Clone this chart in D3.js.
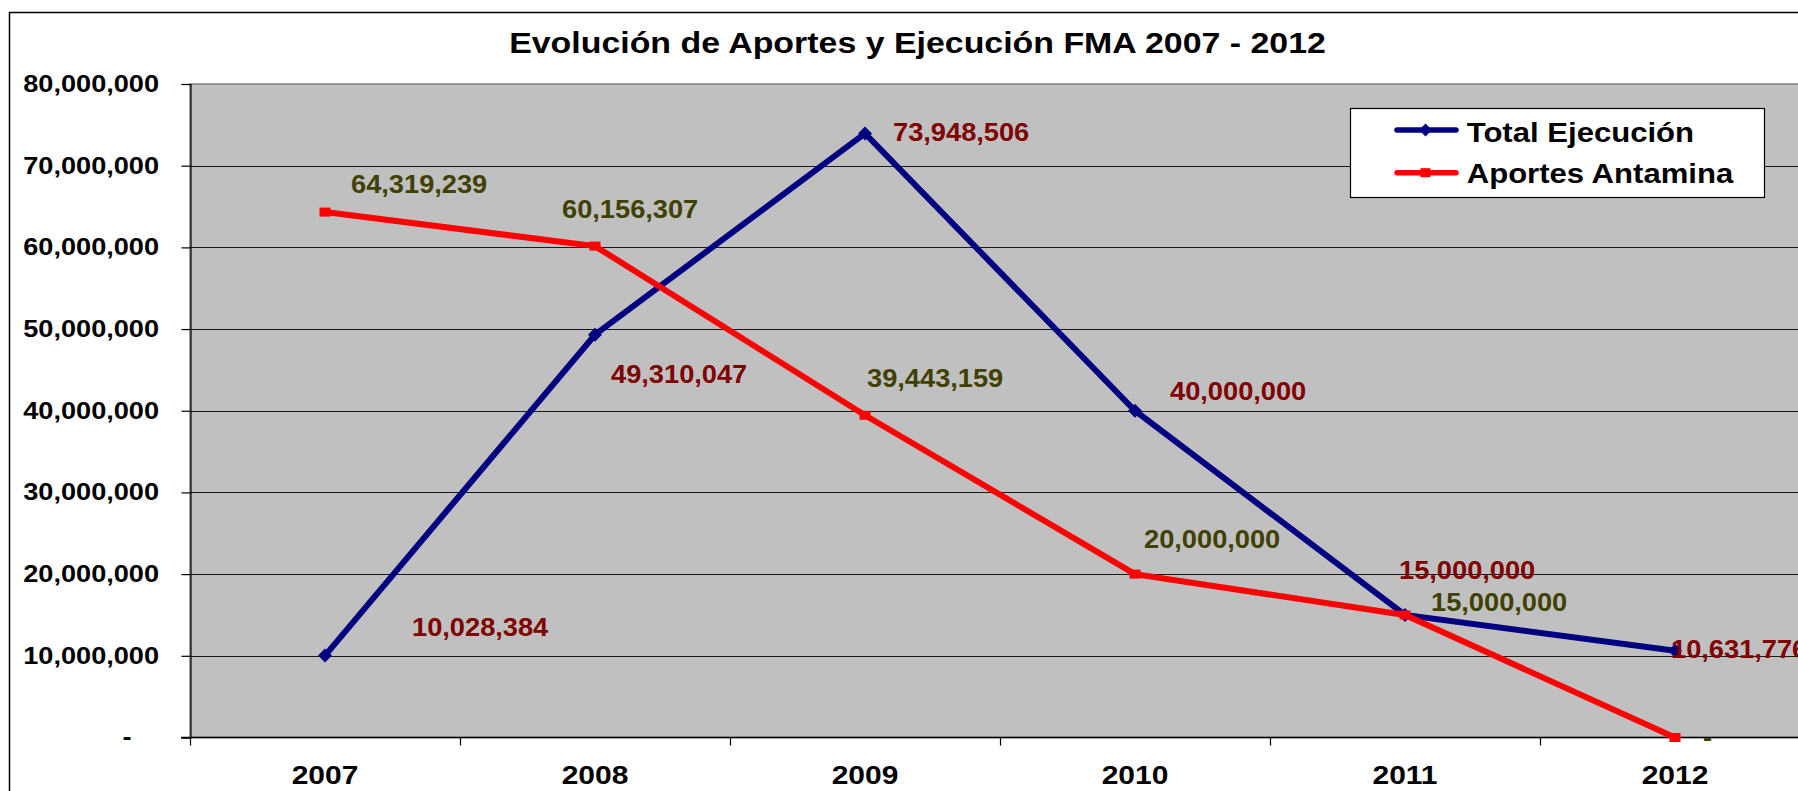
<!DOCTYPE html>
<html>
<head>
<meta charset="utf-8">
<script src="https://cdn.jsdelivr.net/npm/d3@7"></script>
<style>
  html, body { margin: 0; padding: 0; background: #ffffff; overflow: hidden; }
  svg { display: block; }
  text { font-family: "Liberation Sans", Arial, sans-serif; font-weight: bold; }
</style>
</head>
<body>
<svg id="chart" width="1798" height="791"></svg>
<script>
// ---- data ----
const categories = ["2007", "2008", "2009", "2010", "2011", "2012"];
const totalEjecucion = [10028384, 49310047, 73948506, 40000000, 15000000, 10631776];
const aportesAntamina = [64319239, 60156307, 39443159, 20000000, 15000000, 0];
const seriesNames = ["Total Ejecución", "Aportes Antamina"];
const yTicks = [0, 10000000, 20000000, 30000000, 40000000, 50000000, 60000000, 70000000, 80000000];
const chartTitle = "Evolución de Aportes y Ejecución FMA 2007 - 2012";

// ---- layout (label offsets from their points, in px) ----
const blueLabelOffsets = [[87, -20], [16, 48], [28, 8], [35, -11], [-6, -36], [-4, 7]];
const redLabelOffsets = [[26, -19], [-33, -28], [2, -28], [9, -26], [26, -4], [28, 8]];

const W = 1798, H = 791;
const plot = { left: 190, top: 84, bottom: 737.5, right: 1810 };
const blue = "#000080", red = "#FF0000";
const blueLabel = "#800000", redLabel = "#404000";

const svg = d3.select("#chart");

const fmt = v => v === 0 ? "-" : d3.format(",")(v);

function stext(g, x, y, s, size, sx, fill, anchor) {
  return g.append("text")
    .attr("transform", `translate(${x},${y}) scale(${sx},1)`)
    .attr("font-size", size)
    .attr("fill", fill)
    .attr("text-anchor", anchor || "start")
    .text(s);
}

// chart background + outer border
svg.append("rect").attr("x", 0).attr("y", 0).attr("width", W).attr("height", H).attr("fill", "#fff");
svg.append("rect").attr("x", 9.5).attr("y", 12.5).attr("width", 2000).attr("height", 1000)
  .attr("fill", "#fff").attr("stroke", "#000").attr("stroke-width", 1.5);

// scales
const x = d3.scaleBand().domain(categories).range([plot.left, plot.right]).padding(0);
const y = d3.scaleLinear().domain([0, 80000000]).range([plot.bottom, plot.top]);
const cx = c => x(c) + x.bandwidth() / 2;

// plot area
svg.append("rect").attr("x", plot.left).attr("y", plot.top)
  .attr("width", plot.right - plot.left).attr("height", plot.bottom - plot.top)
  .attr("fill", "#C0C0C0").attr("stroke", "#808080").attr("stroke-width", 1.5);

// gridlines
svg.append("g").selectAll("line").data(yTicks.filter(t => t > 0 && t < 80000000)).join("line")
  .attr("x1", plot.left).attr("x2", plot.right)
  .attr("y1", d => Math.round(y(d)) + 0.5).attr("y2", d => Math.round(y(d)) + 0.5)
  .attr("stroke", "#1a1a1a").attr("stroke-width", 1);

// y axis
const yAxisG = svg.append("g").attr("transform", `translate(${plot.left + 0.5},0)`)
  .call(d3.axisLeft(y).tickValues(yTicks).tickSize(9).tickFormat(fmt));
yAxisG.select(".domain").attr("stroke", "#000").attr("stroke-width", 1.2);
yAxisG.selectAll(".tick line").attr("stroke", "#000").attr("stroke-width", 1.2);
yAxisG.selectAll(".tick text")
  .attr("font-size", 23).attr("fill", "#000").attr("font-family", null)
  .attr("x", d => d === 0 ? -50 : -26.7)
  .attr("transform", "scale(1.18,1)");

// x axis line + boundary ticks
svg.append("line").attr("x1", plot.left - 9).attr("x2", plot.right)
  .attr("y1", plot.bottom).attr("y2", plot.bottom).attr("stroke", "#000").attr("stroke-width", 1.5);
const boundaries = d3.range(categories.length + 1).map(i => plot.left + i * x.step());
svg.append("g").selectAll("line").data(boundaries).join("line")
  .attr("x1", d => d + 0.5).attr("x2", d => d + 0.5)
  .attr("y1", plot.bottom).attr("y2", plot.bottom + 8)
  .attr("stroke", "#000").attr("stroke-width", 1.2);
const xAxisG = svg.append("g").attr("transform", `translate(0,${plot.bottom})`)
  .call(d3.axisBottom(x).tickSize(0).tickPadding(29));
xAxisG.select(".domain").remove();
xAxisG.selectAll(".tick text")
  .attr("font-size", 25).attr("fill", "#000").attr("font-family", null)
  .attr("transform", "scale(1.2,1)");

// lines
const lineGen = d3.line().x((d, i) => cx(categories[i])).y(d => y(d));
svg.append("path").datum(totalEjecucion).attr("d", lineGen)
  .attr("fill", "none").attr("stroke", blue).attr("stroke-width", 6).attr("stroke-linejoin", "miter");
svg.append("g").selectAll("path").data(totalEjecucion).join("path")
  .attr("d", (d, i) => {
    const px = cx(categories[i]), py = y(d), r = 7;
    return `M${px},${py - r}L${px + r},${py}L${px},${py + r}L${px - r},${py}Z`;
  })
  .attr("fill", blue);

svg.append("path").datum(aportesAntamina).attr("d", lineGen)
  .attr("fill", "none").attr("stroke", red).attr("stroke-width", 6).attr("stroke-linejoin", "miter");
svg.append("g").selectAll("rect").data(aportesAntamina).join("rect")
  .attr("x", (d, i) => cx(categories[i]) - 5.5).attr("y", d => y(d) - 4.5)
  .attr("width", 11).attr("height", 9).attr("fill", red);

// data labels
const labelsG = svg.append("g");
totalEjecucion.forEach((v, i) => {
  const o = blueLabelOffsets[i];
  stext(labelsG, cx(categories[i]) + o[0], y(v) + o[1], fmt(v), 25, 1.09, blueLabel);
});
aportesAntamina.forEach((v, i) => {
  const o = redLabelOffsets[i];
  stext(labelsG, cx(categories[i]) + o[0], y(v) + o[1], fmt(v), 25, 1.09, redLabel);
});

// title
stext(svg, 917.5, 53.3, chartTitle, 30, 1.13, "#000", "middle");

// legend
const lg = svg.append("g");
lg.append("rect").attr("x", 1350.5).attr("y", 108.5).attr("width", 414).attr("height", 89)
  .attr("fill", "#fff").attr("stroke", "#000").attr("stroke-width", 1.2);
const legendRows = [
  { name: seriesNames[0], color: blue, ly: 130, ty: 141.7, marker: "diamond" },
  { name: seriesNames[1], color: red, ly: 172.7, ty: 183.3, marker: "dash" }
];
legendRows.forEach(r => {
  lg.append("line").attr("x1", 1397).attr("x2", 1456).attr("y1", r.ly).attr("y2", r.ly)
    .attr("stroke", r.color).attr("stroke-width", 5.5).attr("stroke-linecap", "round");
  if (r.marker === "diamond") {
    const px = 1425.5, py = r.ly, rr = 6.5;
    lg.append("path").attr("d", `M${px},${py - rr}L${px + rr},${py}L${px},${py + rr}L${px - rr},${py}Z`).attr("fill", r.color);
  } else {
    lg.append("rect").attr("x", 1420.5).attr("y", r.ly - 4.5).attr("width", 10).attr("height", 9).attr("fill", r.color);
  }
  stext(lg, 1466.7, r.ty, r.name, 28, 1.11, "#000");
});
</script>
</body>
</html>
